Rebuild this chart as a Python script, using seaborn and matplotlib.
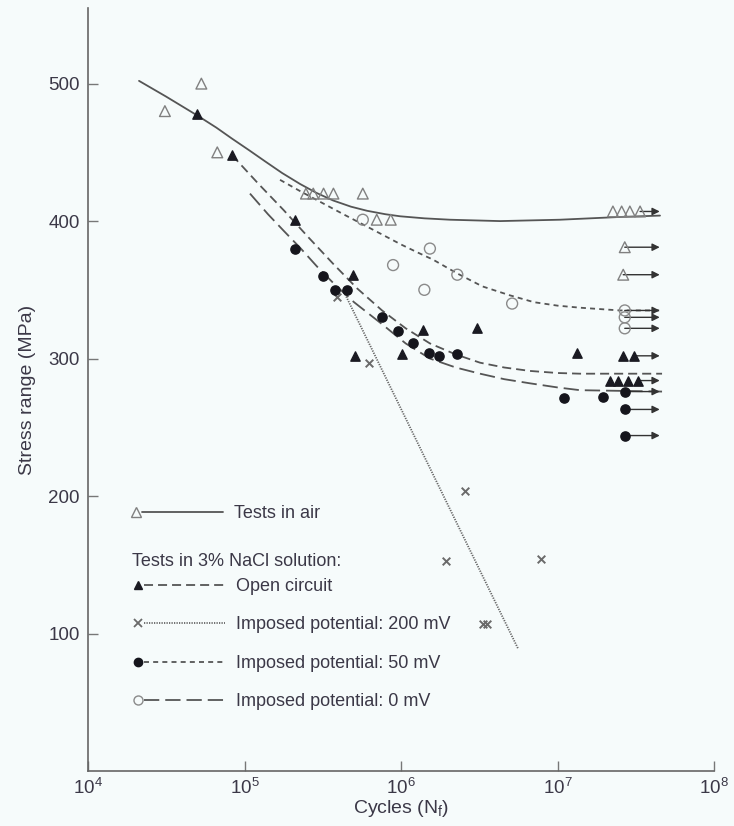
import numpy as np
import pandas as pd
import matplotlib
matplotlib.use("Agg")
import matplotlib.pyplot as plt
import seaborn as sns
from matplotlib.lines import Line2D
from matplotlib.legend_handler import HandlerBase

# ---------------- data ----------------
# Tests in air (open triangles)
air_N = [3.1e4, 5.3e4, 6.7e4, 2.47e5, 2.75e5, 3.2e5, 3.7e5, 5.7e5, 7.0e5, 8.6e5]
air_S = [480, 500, 450, 420, 420, 420, 420, 420, 401, 401]
air_run_N = [2.26e7, 2.57e7, 2.9e7, 3.37e7, 2.69e7, 2.63e7]
air_run_S = [407, 407, 407, 407, 381, 361]
air_arrow = [False, False, False, True, True, True]

# Open circuit (filled triangles)
oc_N = [5.0e4, 8.3e4, 2.1e5, 4.9e5, 1.38e6, 3.05e6, 5.1e5, 1.02e6, 1.33e7]
oc_S = [478, 448, 401, 361, 321, 322, 302, 303, 304]
oc_run_N = [2.63e7, 3.09e7, 2.17e7, 2.44e7, 2.82e7, 3.27e7]
oc_run_S = [302, 302, 284, 284, 284, 284]
oc_arrow = [False, True, False, False, False, True]

# Imposed potential 200 mV (crosses)
p200_N = [3.9e5, 6.2e5, 2.57e6, 1.95e6, 7.9e6, 3.34e6, 3.55e6]
p200_S = [345, 297, 204, 153, 154, 107, 107]

# Imposed potential 50 mV (filled circles)
p50_N = [2.1e5, 3.16e5, 3.8e5, 4.52e5, 7.6e5, 9.5e5, 1.2e6, 1.51e6, 1.74e6, 2.29e6, 1.1e7, 1.95e7]
p50_S = [380, 360, 350, 350, 330, 320, 311, 304, 302, 303, 271, 272]
p50_run_N = [2.69e7, 2.69e7, 2.69e7]
p50_run_S = [276, 263, 244]

# Imposed potential 0 mV (open circles)
p0_N = [5.7e5, 1.53e6, 8.9e5, 1.41e6, 2.29e6, 5.13e6]
p0_S = [401, 380, 368, 350, 361, 340]
p0_run_N = [2.69e7, 2.69e7, 2.69e7]
p0_run_S = [335, 330, 322]

runout_end_N = 4.5e7

# Fitted curves (log10 N, stress)
air_curve_logN = [4.326, 4.5, 4.703, 4.82, 4.92, 5.03, 5.131, 5.24, 5.355, 5.46, 5.566,
                  5.68, 5.783, 5.9, 5.994, 6.15, 6.313, 6.633, 7.016, 7.399, 7.655]
air_curve_S = [502, 490.5, 476.5, 468, 460, 451.5, 443.5, 435, 427, 420.5, 415,
               410.5, 407.5, 405, 403.5, 402, 401, 400, 401, 403, 404]

short_curve_logN = [5.227, 5.36, 5.5, 5.64, 5.783, 5.9, 6.0, 6.1, 6.204, 6.358, 6.52,
                    6.696, 6.85, 7.0, 7.144, 7.399, 7.668]
short_curve_S = [430, 421.5, 413, 404.5, 396, 389, 383, 377.5, 372, 362, 352.5,
                 346, 341, 338.5, 337, 335, 335]

oc_curve_logN = [4.920, 5.09, 5.25, 5.41, 5.566, 5.72, 5.879, 6.03, 6.185, 6.35, 6.505,
                 6.66, 6.824, 7.0, 7.144, 7.668]
oc_curve_S = [448, 427, 408, 388, 369, 351, 335, 322, 311, 303, 297,
              293.5, 291, 289.5, 289, 289]

long_curve_logN = [5.035, 5.15, 5.25, 5.36, 5.463, 5.58, 5.70, 5.879, 6.03, 6.185, 6.35,
                   6.505, 6.66, 6.824, 7.0, 7.144, 7.668]
long_curve_S = [420, 405, 393, 380, 367, 353.5, 341, 325, 311, 300, 293.5,
                289, 285, 282, 279, 277, 276]

dot_curve_logN = [5.629, 6.748]
dot_curve_S = [350, 89]

x_ticks = [1e4, 1e5, 1e6, 1e7, 1e8]
y_ticks = [100, 200, 300, 400, 500]

# ---------------- style ----------------
sns.set_theme(style="ticks")
plt.rcParams["font.family"] = ["Liberation Sans", "DejaVu Sans"]
plt.rcParams["mathtext.fontset"] = "custom"
plt.rcParams["mathtext.rm"] = "Liberation Sans"
plt.rcParams["mathtext.it"] = "Liberation Sans:italic"
plt.rcParams["lines.scale_dashes"] = False

BG = "#f6fbfb"
TXT = "#3b3847"
LINE = "#555555"

fig = plt.figure(figsize=(7.34, 8.26), dpi=100, facecolor=BG)
ax = fig.add_axes([88 / 734, 1 - 771 / 826, (714 - 88) / 734, (771 - 8) / 826])
ax.set_facecolor(BG)
ax.set_xscale("log")

# ---------------- curves ----------------
def curve(logN, S, **kw):
    sns.lineplot(x=10 ** np.array(logN), y=S, ax=ax, sort=False, estimator=None,
                 legend=False, **kw)

curve(air_curve_logN, air_curve_S, color=LINE, linewidth=1.3, linestyle="-")
curve(short_curve_logN, short_curve_S, color=LINE, linewidth=1.3, linestyle=(0, (3.6, 3.0)))
curve(oc_curve_logN, oc_curve_S, color=LINE, linewidth=1.3, linestyle=(0, (6.5, 3.6)))
curve(long_curve_logN, long_curve_S, color=LINE, linewidth=1.3, linestyle=(0, (11, 4.3)))
curve(dot_curve_logN, dot_curve_S, color="#666666", linewidth=1.3, linestyle=(0, (0.9, 0.9)))

# ---------------- run-out arrows ----------------
def arrows(Ns, Ss, flags=None):
    for i, (n, s) in enumerate(zip(Ns, Ss)):
        if flags is not None and not flags[i]:
            continue
        ax.annotate("", xy=(runout_end_N, s), xytext=(n, s),
                    arrowprops=dict(arrowstyle="-|>", color="#333333", lw=1.0,
                                    mutation_scale=11, shrinkA=0, shrinkB=0),
                    zorder=2)

arrows(air_run_N, air_run_S, air_arrow)
arrows(oc_run_N, oc_run_S, oc_arrow)
arrows(p50_run_N, p50_run_S)
arrows(p0_run_N, p0_run_S)

# ---------------- markers ----------------
def pts(N, S, marker, s, filled, color, lw=1.0):
    sns.scatterplot(x=N, y=S, marker=marker, s=s, ax=ax, color=color,
                    edgecolor=color, linewidth=lw, legend=False, zorder=3)
    coll = ax.collections[-1]
    if not filled:
        coll.set_facecolor("none")
    coll.set_edgecolor(color)

pts(air_N + air_run_N, air_S + air_run_S, "^", 60, False, "#808080")
pts(oc_N + oc_run_N, oc_S + oc_run_S, "^", 45, True, "#1a1a22")
pts(p200_N, p200_S, "x", 30, True, "#6a6a6a", lw=1.4)
pts(p50_N + p50_run_N, p50_S + p50_run_S, "o", 44, True, "#15151c")
pts(p0_N + p0_run_N, p0_S + p0_run_S, "o", 62, False, "#8a8a8a")

# ---------------- axes ----------------
ax.set_xlim(1e4, 1e8)
ax.set_ylim(0, 555)
ax.set_xticks(x_ticks)
ax.set_yticks(y_ticks)
ax.minorticks_off()
ax.tick_params(axis="both", direction="in", length=7, width=1, color="#777777",
               labelsize=13.5, labelcolor=TXT)
ax.tick_params(axis="y", pad=6)
ax.tick_params(axis="x", pad=5)
for sp in ["top", "right"]:
    ax.spines[sp].set_visible(False)
for sp in ["left", "bottom"]:
    ax.spines[sp].set_color("#666666")
    ax.spines[sp].set_linewidth(1.2)

ax.set_xlabel(r"Cycles (N$_\mathrm{f}$)", fontsize=14, color=TXT, labelpad=0)
ax.set_ylabel("Stress range (MPa)", fontsize=14, color=TXT, labelpad=9)

# ---------------- legend ----------------
class LeftMarkerHandler(HandlerBase):
    def create_artists(self, legend, orig, xdescent, ydescent, width, height, fontsize, trans):
        y = height / 2.0 - ydescent
        x0 = -xdescent
        ln = Line2D([x0 + 0.1 * width, x0 + width], [y, y])
        ln.update_from(orig)
        ln.set_marker("None")
        mk = Line2D([x0 + 0.03 * width], [y])
        mk.update_from(orig)
        mk.set_linestyle("None")
        ln.set_transform(trans)
        mk.set_transform(trans)
        return [ln, mk]

h_air = Line2D([], [], color=LINE, lw=1.3, ls="-", marker="^", ms=7,
               mfc="none", mec="#808080")
h_oc = Line2D([], [], color=LINE, lw=1.3, ls=(0, (6.5, 3.6)), marker="^", ms=6,
              mfc="#1a1a22", mec="#1a1a22")
h_200 = Line2D([], [], color="#666666", lw=1.3, ls=(0, (0.9, 0.9)), marker="x", ms=6,
               mec="#6a6a6a", mew=1.3)
h_50 = Line2D([], [], color=LINE, lw=1.3, ls=(0, (3.6, 3.0)), marker="o", ms=6,
              mfc="#15151c", mec="#15151c")
h_0 = Line2D([], [], color=LINE, lw=1.3, ls=(0, (11, 4.3)), marker="o", ms=6.5,
             mfc="none", mec="#8a8a8a")

hm = {Line2D: LeftMarkerHandler()}
leg1 = ax.legend([h_air], ["Tests in air"], loc="center left",
                 bbox_to_anchor=((133 - 88) / 626, (771 - 514) / 763),
                 frameon=False, fontsize=13, handlelength=5.0, handletextpad=0.6,
                 borderpad=0, borderaxespad=0, handler_map=hm, labelcolor=TXT)
ax.add_artist(leg1)

ax.text((132 - 88) / 626, (771 - 561) / 763, "Tests in 3% NaCl solution:",
        transform=ax.transAxes, ha="left", va="center", fontsize=13, color=TXT)

leg2 = ax.legend([h_oc, h_200, h_50, h_0],
                 ["Open circuit", "Imposed potential: 200 mV",
                  "Imposed potential: 50 mV", "Imposed potential: 0 mV"],
                 loc="upper left",
                 bbox_to_anchor=((135 - 88) / 626, (771 - 578) / 763),
                 frameon=False, fontsize=13, handlelength=5.0, handletextpad=0.6,
                 labelspacing=1.19, borderpad=0, borderaxespad=0, handler_map=hm,
                 labelcolor=TXT)

fig.savefig("out.png", dpi=100, facecolor=BG)
